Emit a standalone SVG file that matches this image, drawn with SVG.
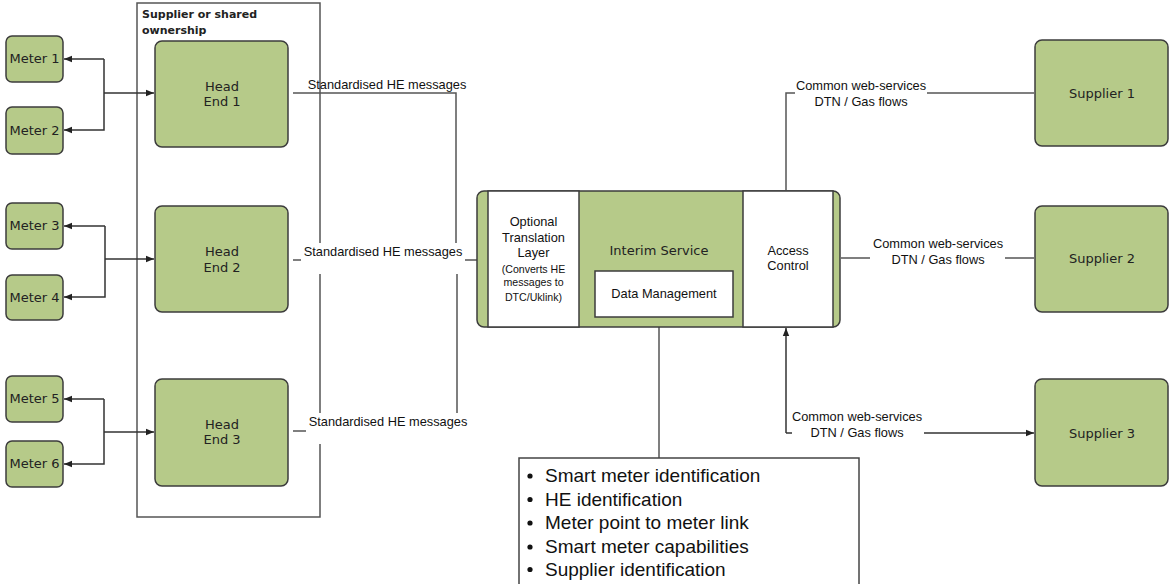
<svg xmlns="http://www.w3.org/2000/svg" width="1171" height="584" viewBox="0 0 1171 584">
<style>
.g{fill:#b6ca89;stroke:#3c3c3c;stroke-width:1.5}
.w{fill:#fff;stroke:#3c3c3c;stroke-width:1.5}
.v{font-family:"DejaVu Sans",Verdana,sans-serif;font-size:13px;fill:#222;text-anchor:middle}
.a{font-family:"Liberation Sans",Arial,sans-serif;font-size:12.8px;fill:#111;text-anchor:middle}
.s{font-family:"Liberation Sans",Arial,sans-serif;font-size:10.6px;fill:#111;text-anchor:middle}
.b{font-family:"Liberation Sans",Arial,sans-serif;font-size:19px;fill:#111}
.t{font-family:"DejaVu Sans",Verdana,sans-serif;font-size:11px;font-weight:bold;fill:#222}
.c{fill:none;stroke:#333;stroke-width:1.5}
.l{fill:none;stroke:#555;stroke-width:1.5}
.m{fill:#fff;stroke:none}
</style>
<defs>
<marker id="ar" viewBox="0 0 8 8" refX="8" refY="4" markerWidth="8" markerHeight="8" markerUnits="userSpaceOnUse" orient="auto">
<path d="M0,0.8 L8,4 L0,7.2 Z" fill="#222"/>
</marker>
</defs>
<rect width="1171" height="584" fill="#fff"/>

<g id="supplier-ownership">
<rect x="137" y="3" width="183" height="514" fill="none" stroke="#555" stroke-width="1.5"/>
<text class="t" x="142" y="18">Supplier or shared</text>
<text class="t" x="142" y="34">ownership</text>
</g>

<g id="connectors">
<path class="c" d="M104,59 H64" marker-end="url(#ar)"/>
<path class="c" d="M104,59 V130 H64" marker-end="url(#ar)"/>
<path class="c" d="M104,93 H154" marker-end="url(#ar)"/>
<path class="c" d="M105,226 H64" marker-end="url(#ar)"/>
<path class="c" d="M105,226 V297 H64" marker-end="url(#ar)"/>
<path class="c" d="M105,259 H154" marker-end="url(#ar)"/>
<path class="c" d="M104,399 H64" marker-end="url(#ar)"/>
<path class="c" d="M104,399 V464 H64" marker-end="url(#ar)"/>
<path class="c" d="M104,432 H154" marker-end="url(#ar)"/>

<path class="l" d="M293,93 H456 V260"/>
<path class="l" d="M293,260 H477"/>
<path class="l" d="M293,431 H457 V260"/>

<path class="l" d="M659,327 V458"/>

<path class="l" d="M786,190 V93 H1034"/>
<path class="l" d="M841,258 H1034"/>
<path class="c" d="M786,433 V328" marker-end="url(#ar)"/>
<path class="c" d="M786,433 H1034" marker-end="url(#ar)"/>
</g>

<g id="labels">
<text class="a" x="387" y="88.5">Standardised HE messages</text>
<rect class="m" x="301" y="243" width="164" height="31"/>
<text class="a" x="383" y="255.5">Standardised HE messages</text>
<rect class="m" x="306" y="413" width="162" height="31"/>
<text class="a" x="388" y="425.5">Standardised HE messages</text>

<rect class="m" x="795" y="77" width="132" height="31"/>
<text class="a" x="861" y="89.5">Common web-services</text>
<text class="a" x="861" y="105.5">DTN / Gas flows</text>
<rect class="m" x="870" y="234" width="135" height="32"/>
<text class="a" x="938" y="247.5">Common web-services</text>
<text class="a" x="938" y="263.5">DTN / Gas flows</text>
<rect class="m" x="792" y="407" width="132" height="32"/>
<text class="a" x="857" y="420.5">Common web-services</text>
<text class="a" x="857" y="436.5">DTN / Gas flows</text>
</g>

<g id="meter1"><rect class="g" x="6" y="36" width="57" height="46" rx="6"/><text class="v" x="34.5" y="63">Meter 1</text></g>
<g id="meter2"><rect class="g" x="6" y="107" width="57" height="47" rx="6"/><text class="v" x="34.5" y="135">Meter 2</text></g>
<g id="meter3"><rect class="g" x="6" y="203" width="57" height="46" rx="6"/><text class="v" x="34.5" y="230">Meter 3</text></g>
<g id="meter4"><rect class="g" x="6" y="275" width="57" height="45" rx="6"/><text class="v" x="34.5" y="302">Meter 4</text></g>
<g id="meter5"><rect class="g" x="6" y="376" width="57" height="46" rx="6"/><text class="v" x="34.5" y="403">Meter 5</text></g>
<g id="meter6"><rect class="g" x="6" y="441" width="57" height="46" rx="6"/><text class="v" x="34.5" y="468">Meter 6</text></g>

<g id="headend1"><rect class="g" x="155" y="41" width="133" height="106" rx="7"/><text class="v" x="222" y="90.5">Head</text><text class="v" x="222" y="105.5">End 1</text></g>
<g id="headend2"><rect class="g" x="155" y="206" width="133" height="106" rx="7"/><text class="v" x="222" y="255.5">Head</text><text class="v" x="222" y="271.5">End 2</text></g>
<g id="headend3"><rect class="g" x="155" y="379" width="133" height="107" rx="7"/><text class="v" x="222" y="428.5">Head</text><text class="v" x="222" y="444">End 3</text></g>

<g id="interim-service">
<rect class="g" x="477" y="191" width="363" height="136" rx="7"/>
<rect class="w" x="488" y="191" width="91" height="136"/>
<rect class="w" x="743" y="191" width="90" height="136"/>
<text class="a" x="533.5" y="225.5">Optional</text>
<text class="a" x="533.5" y="241.5">Translation</text>
<text class="a" x="533.5" y="256.5">Layer</text>
<text class="s" x="533.5" y="273">(Converts HE</text>
<text class="s" x="533.5" y="285.5">messages to</text>
<text class="s" x="533.5" y="300.5">DTC/Uklink)</text>
<text class="v" x="659" y="254.5">Interim Service</text>
<text class="a" x="788" y="254.5">Access</text>
<text class="a" x="788" y="270">Control</text>
</g>
<g id="data-management">
<rect class="w" x="595" y="271" width="138" height="46"/>
<text class="a" x="664" y="298">Data Management</text>
</g>

<g id="supplier1"><rect class="g" x="1035" y="40" width="133" height="106" rx="7"/><text class="v" x="1102" y="97.5">Supplier 1</text></g>
<g id="supplier2"><rect class="g" x="1035" y="206" width="133" height="106" rx="7"/><text class="v" x="1102" y="262.5">Supplier 2</text></g>
<g id="supplier3"><rect class="g" x="1035" y="379" width="133" height="107" rx="7"/><text class="v" x="1102" y="437.5">Supplier 3</text></g>

<g id="data-list">
<rect x="519" y="458" width="340" height="140" fill="#fff" stroke="#444" stroke-width="1.5"/>
<circle cx="530" cy="476" r="2.6" fill="#111"/>
<circle cx="530" cy="499.5" r="2.6" fill="#111"/>
<circle cx="530" cy="523" r="2.6" fill="#111"/>
<circle cx="530" cy="547" r="2.6" fill="#111"/>
<circle cx="530" cy="569.5" r="2.6" fill="#111"/>
<text class="b" x="545" y="482">Smart meter identification</text>
<text class="b" x="545" y="505.5">HE identification</text>
<text class="b" x="545" y="529">Meter point to meter link</text>
<text class="b" x="545" y="553">Smart meter capabilities</text>
<text class="b" x="545" y="575.5">Supplier identification</text>
</g>
</svg>
